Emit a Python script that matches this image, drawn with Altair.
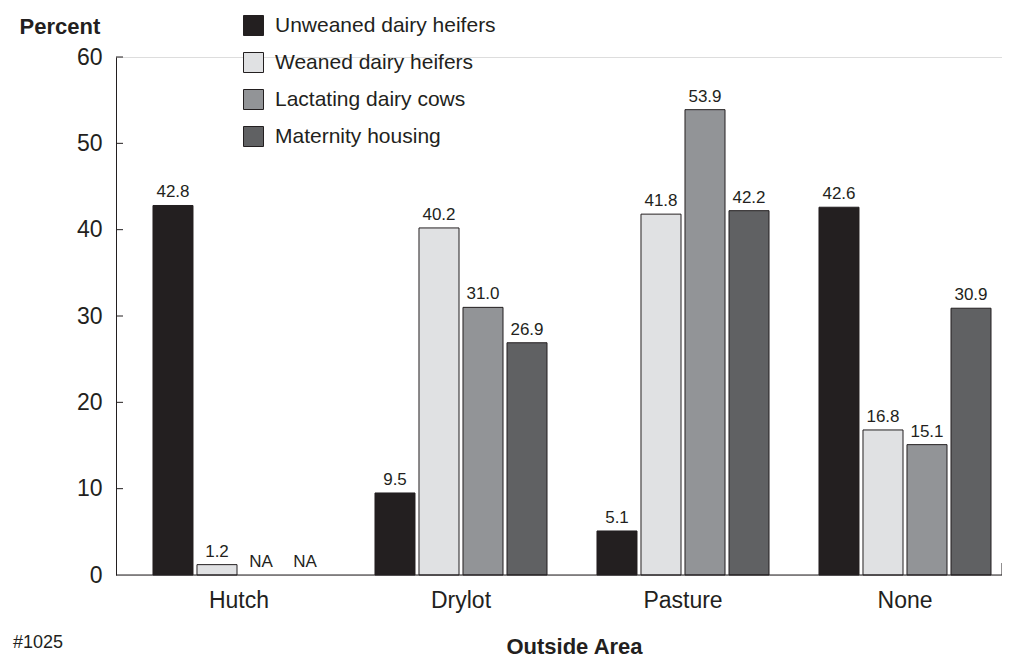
import altair as alt
import pandas as pd

categories = ["Hutch", "Drylot", "Pasture", "None"]
series = ["Unweaned dairy heifers", "Weaned dairy heifers", "Lactating dairy cows", "Maternity housing"]
unweaned = [42.8, 9.5, 5.1, 42.6]
weaned = [1.2, 40.2, 41.8, 16.8]
lactating = [None, 31.0, 53.9, 15.1]
maternity = [None, 26.9, 42.2, 30.9]
colors = ["#231f20", "#e0e1e3", "#929497", "#606163"]
y_ticks = [0, 10, 20, 30, 40, 50, 60]

rows = []
for s, vals in zip(series, [unweaned, weaned, lactating, maternity]):
    for c, v in zip(categories, vals):
        rows.append({
            "area": c,
            "series": s,
            "value": v,
            "ypos": v if v is not None else 0,
            "label": f"{v:.1f}" if v is not None else "NA",
        })
df = pd.DataFrame(rows)

W, H = 886, 518
FONT = "Liberation Sans"
INK = "#231f20"

xscale = alt.Scale(domain=categories, range=[12, 900], paddingInner=0, paddingOuter=0)
xoff_scale = alt.Scale(domain=series, paddingInner=0.0909, paddingOuter=0.568)
yscale = alt.Scale(domain=[0, 60], nice=False)

base = alt.Chart(df)

bars = base.mark_bar(stroke=INK, strokeWidth=1).encode(
    x=alt.X("area:N", scale=xscale, sort=categories,
            axis=alt.Axis(title="Outside Area", domain=False, ticks=False,
                          labelFontSize=23, labelFont=FONT, labelColor=INK,
                          labelPadding=14, labelAngle=0,
                          titleFont=FONT, titleFontSize=22, titleFontWeight="bold",
                          titleColor=INK, titleX=458, titleY=78,
                          titleBaseline="alphabetic", titleAnchor="start",
                          titleAlign="center")),
    xOffset=alt.XOffset("series:N", scale=xoff_scale, sort=series),
    y=alt.Y("value:Q", scale=yscale,
            axis=alt.Axis(title="Percent", values=y_ticks, ticks=False, grid=False,
                          domain=True, domainColor=INK, domainWidth=1,
                          labelFontSize=23, labelFont=FONT, labelColor=INK,
                          labelPadding=14,
                          titleAngle=0, titleFont=FONT, titleFontSize=22,
                          titleFontWeight="bold", titleColor=INK,
                          titleAlign="left", titleX=-97, titleY=-24,
                          titleBaseline="alphabetic")),
    color=alt.Color("series:N", sort=series,
                    scale=alt.Scale(domain=series, range=colors),
                    legend=alt.Legend(title=None, orient="none", legendX=127, legendY=-42,
                                      symbolType="square", symbolSize=400,
                                      symbolStrokeColor=INK, symbolStrokeWidth=1,
                                      labelFontSize=21, labelFont=FONT, labelColor=INK,
                                      labelLimit=0, labelOffset=11, rowPadding=12)),
)

labels = base.mark_text(baseline="alphabetic", dy=-8, fontSize=17, font=FONT, color=INK).encode(
    x=alt.X("area:N", scale=xscale, sort=categories),
    xOffset=alt.XOffset("series:N", scale=xoff_scale, sort=series),
    y=alt.Y("ypos:Q", scale=yscale),
    text="label:N",
)

tick_df = pd.DataFrame({"t": y_ticks[1:]})
yticks = alt.Chart(tick_df).mark_rule(color=INK, strokeWidth=1).encode(
    y=alt.Y("t:Q", scale=yscale),
    x=alt.value(0), x2=alt.value(7),
)

baseline = alt.Chart(pd.DataFrame({"z": [0]})).mark_rule(color=INK, strokeWidth=1).encode(
    y=alt.Y("z:Q", scale=yscale), x=alt.value(0), x2=alt.value(W),
)
endtick = alt.Chart(pd.DataFrame({"z": [0]})).mark_rule(color=INK, strokeWidth=1).encode(
    x=alt.value(W), y=alt.value(H - 12), y2=alt.value(H),
)

note = alt.Chart(pd.DataFrame({"n": ["#1025"]})).mark_text(
    align="left", baseline="alphabetic", fontSize=18, font=FONT, color=INK
).encode(x=alt.value(-103), y=alt.value(591), text="n:N")

chart = alt.layer(bars, labels, yticks, baseline, endtick, note).properties(
    width=W, height=H,
    autosize=alt.AutoSizeParams(type="none"),
    padding={"left": 108, "top": 49, "right": 0, "bottom": 84},
).configure_view(stroke=None).configure(background="white")

chart.save("out.html", embed_options={"renderer": "svg", "actions": False})
